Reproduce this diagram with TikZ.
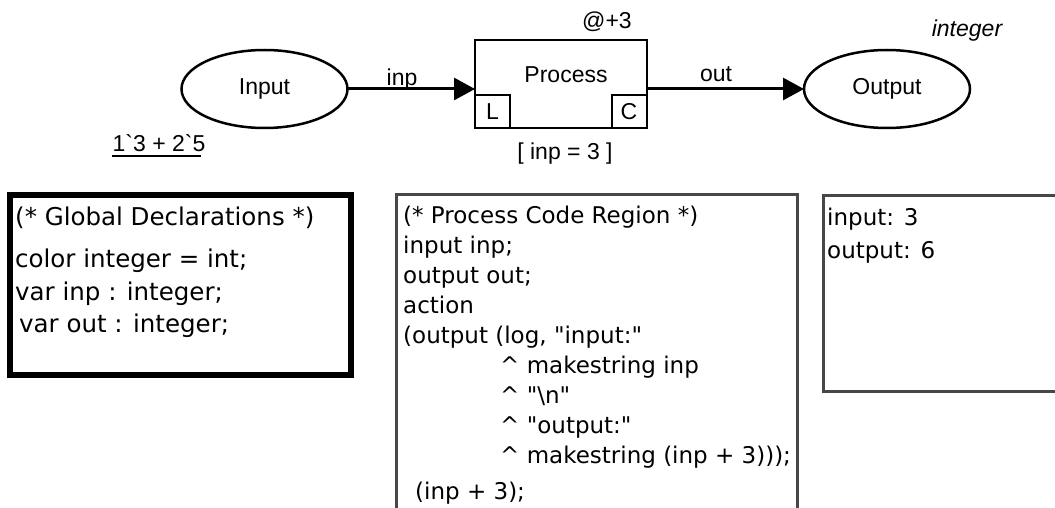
\documentclass[tikz,border=0pt]{standalone}
\usepackage{fontspec}
\setmainfont{Liberation Sans}[Ligatures=TeXOff]
\newfontfamily\codefont{DejaVu Sans}[Ligatures=TeXOff]
\usetikzlibrary{arrows.meta,shapes.geometric}

\begin{document}
\begin{tikzpicture}[x=1pt,y=-1pt,
  netfont/.style={font=\fontsize{23}{27}\selectfont},
  place/.style={draw, ellipse, line width=2.5pt, minimum width=166pt, minimum height=78pt,
                inner sep=0pt, outer sep=0pt, netfont},
  trans/.style={draw, rectangle, line width=2.5pt, minimum width=172pt, minimum height=88pt,
                inner sep=0pt, outer sep=0pt},
  tag/.style={draw, rectangle, line width=2pt, minimum width=35pt, minimum height=33pt,
              inner sep=0pt, outer sep=0pt, netfont},
  inscr/.style={netfont, inner sep=0pt, anchor=base},
  arc/.style={line width=3pt, -{Triangle[length=21pt,width=22pt]}},
  codebox/.style={draw=black!72, line width=3pt, rectangle, inner sep=0pt},
  declbox/.style={draw=black, line width=6pt, rectangle, inner sep=0pt},
  code/.style={font=\codefont\fontsize{23}{27}\selectfont, inner sep=0pt, anchor=base west},
  decl/.style={font=\codefont\fontsize{24.5}{28}\selectfont, inner sep=0pt, anchor=base west}
]
\clip (0,0) rectangle (1055,508);

% --- net: places, transition and arcs ---
\node[place] (in)  at (264.5,89) {Input};
\node[place] (out) at (887,89) {Output};
\node[trans] (pr)  at (561,84) {};
\node[inscr] (prname) at (566,83) {Process};
\node[tag] (ltag) at (492.5,111.5) {L};
\node[tag] (ctag) at (629,111.5) {C};

\draw[arc] (in.east) -- (in.east -| pr.west);
\draw[arc] (pr.east |- out.west) -- (out.west);

% --- inscriptions ---
\node[inscr] (inplbl)  at (402,86)  {inp};
\node[inscr] (outlbl)  at (716,82)  {out};
\node[inscr] (delay)   at (607,29)  {@+3};
\node[inscr] (guard)   at (565,160) {[ inp = 3 ]};
\node[inscr, font=\fontsize{23}{27}\selectfont\itshape] (colset) at (967,37) {integer};
\node[inscr] (marking) at (159,152) {1`3 + 2`5};
\draw[line width=1.5pt] (marking.base west) ++(0,4) -- ++(89,0);

% --- global declarations ---
\node[declbox, minimum width=341pt, minimum height=180pt] (gdecl) at (180.5,285) {};
\node[decl] (g1) at (15,225) {(* Global Declarations *)};
\node[decl] (g2) at (15,267) {color integer = int;};
\node[decl] (g3) at (15,300) {var inp : integer;};
\node[decl] (g4) at (19,332) {var out : integer;};

% --- code segment of the transition ---
\node[codebox, minimum width=401pt, minimum height=365pt] (pcode) at (597,377) {};
\node[code] (c1)  at (403,223) {(* Process Code Region *)};
\node[code] (c2)  at (403,253) {input inp;};
\node[code] (c3)  at (403,283) {output out;};
\node[code] (c4)  at (403,313) {action};
\node[code] (c5)  at (403,343) {(output (log, "input:"};
\node[code] (c6)  at (500,373) {\textasciicircum{} makestring inp};
\node[code] (c7)  at (500,403) {\textasciicircum{} "\textbackslash n"};
\node[code] (c8)  at (500,433) {\textasciicircum{} "output:"};
\node[code] (c9)  at (500,463) {\textasciicircum{} makestring (inp + 3)));};
\node[code] (c10) at (415,499) {(inp + 3);};

% --- simulation log ---
\node[codebox, minimum width=277pt, minimum height=196pt] (log) at (961.5,293.5) {};
\node[code] (o1) at (827,225) {input: 3};
\node[code] (o2) at (827,258) {output: 6};
\end{tikzpicture}
\end{document}
